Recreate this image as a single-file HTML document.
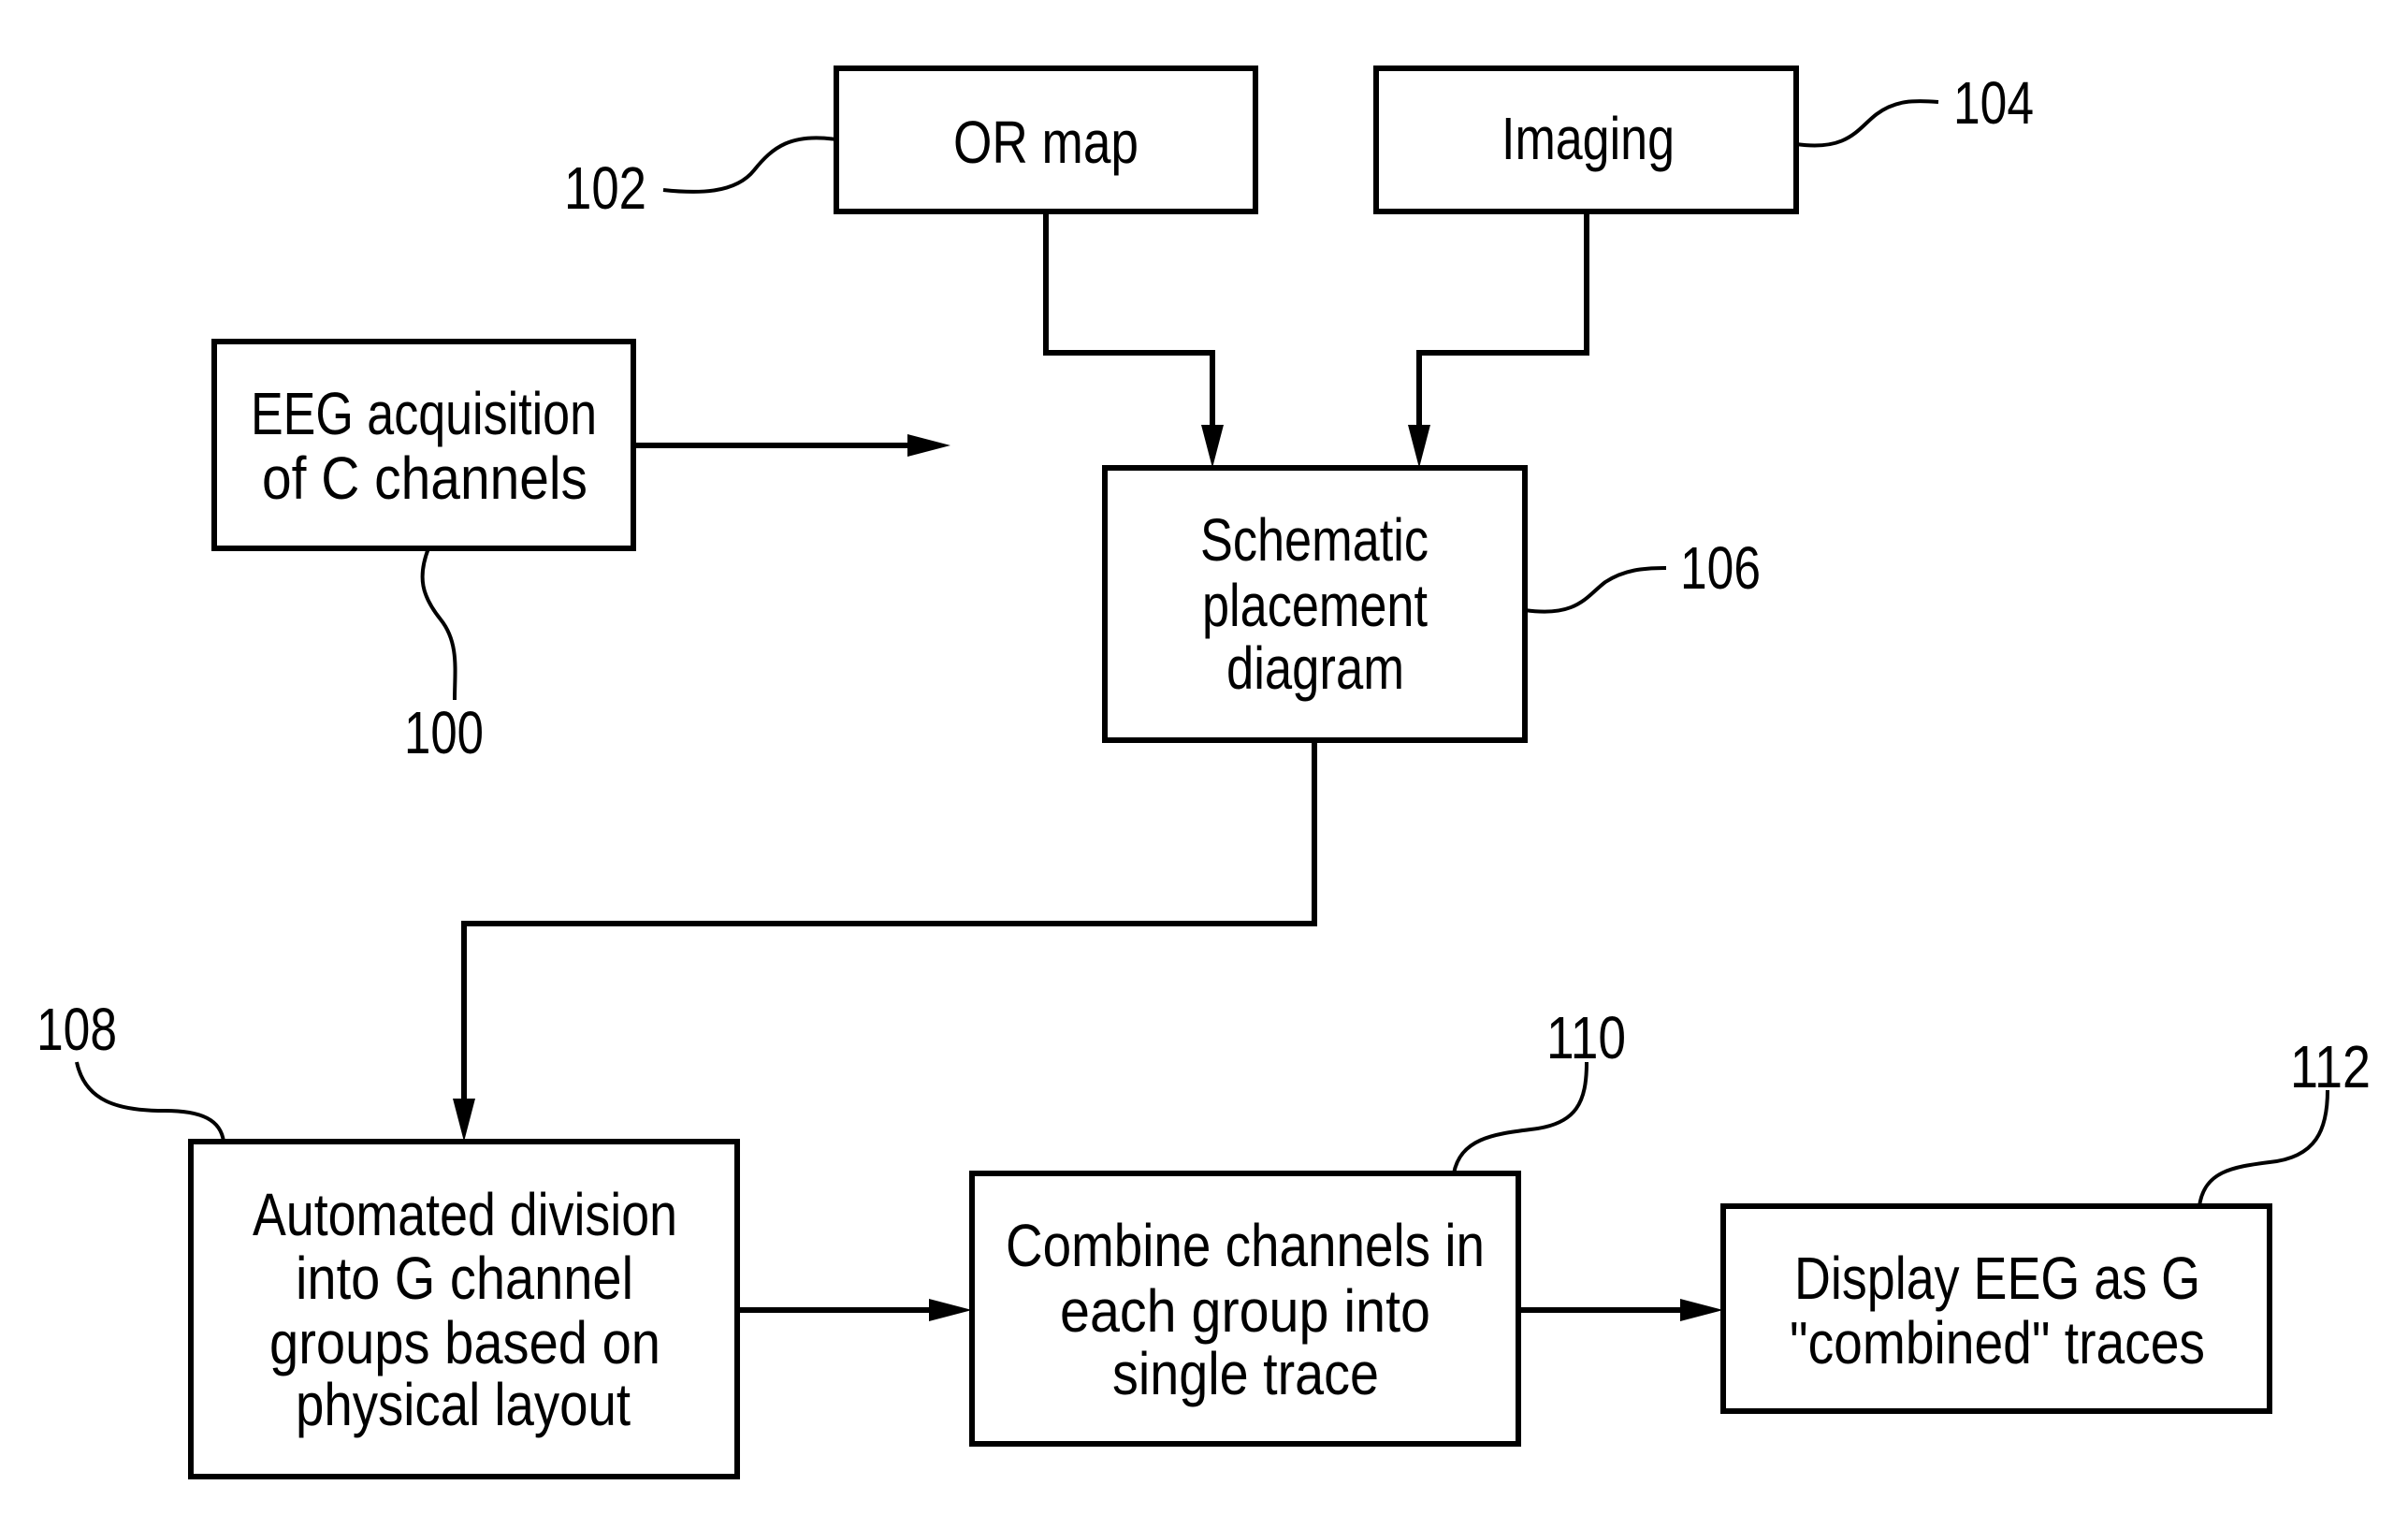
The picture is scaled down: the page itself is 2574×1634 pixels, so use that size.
<!DOCTYPE html>
<html><head><meta charset="utf-8"><style>html,body{margin:0;padding:0;background:#fff}svg{display:block}</style></head>
<body>
<svg width="2574" height="1634" viewBox="0 0 2574 1634" xmlns="http://www.w3.org/2000/svg">
<g transform="translate(-4,-3)">
<g fill="none" stroke="#000" stroke-width="6">
<rect x="898" y="76" width="448" height="153"/>
<rect x="1475" y="76" width="449" height="153"/>
<rect x="233" y="368" width="448" height="221"/>
<rect x="1185" y="503" width="449" height="291"/>
<rect x="208" y="1223" width="584" height="358"/>
<rect x="1043" y="1257" width="584" height="289"/>
<rect x="1846" y="1292" width="584" height="219"/>
<polyline points="1122,229 1122,380 1300,380 1300,460"/>
<polyline points="1700,229 1700,380 1521,380 1521,460"/>
<polyline points="681,479 975,479"/>
<polyline points="1409,794 1409,990 500,990 500,1180"/>
<polyline points="792,1403 1000,1403"/>
<polyline points="1627,1403 1803,1403"/>
<g stroke-width="4">
<path d="M898,152 C850,145 830,160 810,185 C790,210 750,210 713,206"/>
<path d="M1924,157 C1980,165 1990,140 2010,125 C2030,110 2050,110 2076,112"/>
<path d="M1634,655 C1690,663 1700,640 1720,625 C1740,612 1760,610 1785,610"/>
<path d="M462,589 C450,620 455,640 475,665 C495,690 490,720 490,751"/>
<path d="M86,1138 C95,1180 130,1190 180,1190 C220,1190 240,1200 243,1223"/>
<path d="M1558,1257 C1565,1220 1600,1215 1640,1210 C1690,1205 1700,1180 1700,1138"/>
<path d="M2355,1292 C2360,1255 2390,1250 2430,1245 C2480,1240 2492,1210 2492,1168"/>
</g>
</g>
<g fill="#000">
<polygon points="1300,503 1288,457 1312,457"/>
<polygon points="1521,503 1509,457 1533,457"/>
<polygon points="1020,479 974,467 974,491"/>
<polygon points="500,1223 488,1177 512,1177"/>
<polygon points="1043,1403 997,1391 997,1415"/>
<polygon points="1846,1403 1800,1391 1800,1415"/>
</g>
<g font-family="Liberation Sans, sans-serif" font-size="64" fill="#000">
<text x="1023" y="177" textLength="198" lengthAdjust="spacingAndGlyphs">OR map</text>
<text x="1609" y="173" textLength="185" lengthAdjust="spacingAndGlyphs">Imaging</text>
<text x="272" y="467" textLength="370" lengthAdjust="spacingAndGlyphs">EEG acquisition</text>
<text x="284" y="536" textLength="348" lengthAdjust="spacingAndGlyphs">of C channels</text>
<text x="1287" y="602" textLength="244" lengthAdjust="spacingAndGlyphs">Schematic</text>
<text x="1289" y="672" textLength="241" lengthAdjust="spacingAndGlyphs">placement</text>
<text x="1315" y="739" textLength="190" lengthAdjust="spacingAndGlyphs">diagram</text>
<text x="274" y="1323" textLength="454" lengthAdjust="spacingAndGlyphs">Automated division</text>
<text x="320" y="1391" textLength="361" lengthAdjust="spacingAndGlyphs">into G channel</text>
<text x="292" y="1460" textLength="418" lengthAdjust="spacingAndGlyphs">groups based on</text>
<text x="320" y="1526" textLength="358" lengthAdjust="spacingAndGlyphs">physical layout</text>
<text x="1079" y="1356" textLength="512" lengthAdjust="spacingAndGlyphs">Combine channels in</text>
<text x="1137" y="1426" textLength="396" lengthAdjust="spacingAndGlyphs">each group into</text>
<text x="1193" y="1493" textLength="285" lengthAdjust="spacingAndGlyphs">single trace</text>
<text x="1922" y="1391" textLength="434" lengthAdjust="spacingAndGlyphs">Display EEG as G</text>
<text x="1917" y="1460" textLength="444" lengthAdjust="spacingAndGlyphs">"combined" traces</text>
<text x="607" y="226" textLength="88" lengthAdjust="spacingAndGlyphs">102</text>
<text x="2092" y="135" textLength="86" lengthAdjust="spacingAndGlyphs">104</text>
<text x="436" y="808" textLength="85" lengthAdjust="spacingAndGlyphs">100</text>
<text x="1800" y="632" textLength="86" lengthAdjust="spacingAndGlyphs">106</text>
<text x="43" y="1125" textLength="86" lengthAdjust="spacingAndGlyphs">108</text>
<text x="1657" y="1134" textLength="85" lengthAdjust="spacingAndGlyphs">110</text>
<text x="2452" y="1165" textLength="86" lengthAdjust="spacingAndGlyphs">112</text>
</g>
</g>
</svg>
</body></html>
